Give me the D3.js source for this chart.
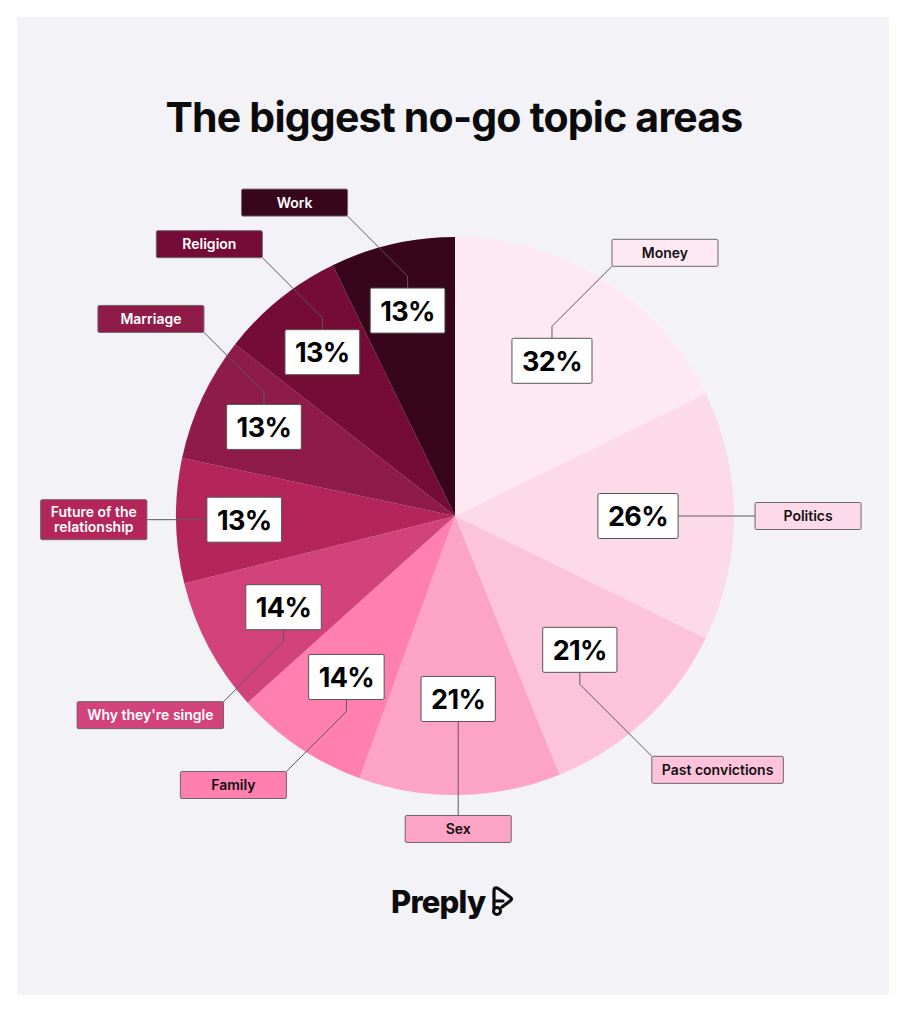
<!DOCTYPE html>
<html>
<head>
<meta charset="utf-8">
<script src="https://cdn.jsdelivr.net/npm/d3@7"></script>
<style>
  body { margin: 0; background: #ffffff; }
  svg { display: block; font-family: Inter, "Noto Sans", sans-serif; }
</style>
</head>
<body>
<svg id="chart"></svg>
<script>
// slices go clockwise from 12 o'clock
var categories = ["Money", "Politics", "Past convictions", "Sex", "Family",
  "Why they're single", "Future of the\nrelationship", "Marriage", "Religion", "Work"];
var shares = [32, 26, 21, 21, 14, 14, 13, 13, 13, 13];
var sliceColors = ["#fee8f2", "#fddae9", "#fdc3da", "#fda3c6", "#ff80ae",
  "#d1437a", "#b42559", "#8f1b48", "#740c36", "#38061a"];
var darkText = [false, false, false, false, false, true, true, true, true, true];

var width = 906, height = 1012;
var cx = 455, cy = 516, radius = 279;

var svg = d3.select("#chart")
    .attr("width", width)
    .attr("height", height);

// grey card
svg.append("rect")
    .attr("x", 17).attr("y", 17)
    .attr("width", 872).attr("height", 978)
    .attr("fill", "#f3f2f7");

svg.append("text")
    .attr("x", cx - 1)
    .attr("y", 132)
    .attr("text-anchor", "middle")
    .style("font-size", "41px")
    .style("font-weight", 700)
    .style("letter-spacing", "-0.8px")
    .style("fill", "#0b0b0b")
    .text("The biggest no-go topic areas");

var data = categories.map(function (c, i) {
  return {name: c, value: shares[i], color: sliceColors[i], light: darkText[i]};
});

var pie = d3.pie().sort(null).value(function (d) { return d.value; });
var arcs = pie(data);

var arc = d3.arc().innerRadius(0).outerRadius(radius);

var g = svg.append("g")
    .attr("transform", "translate(" + cx + "," + cy + ")");

g.selectAll(".slice")
    .data(arcs)
    .enter()
    .append("path")
    .attr("class", "slice")
    .attr("d", arc)
    .attr("fill", function (d) { return d.data.color; });

var lines = g.append("g");
var boxes = g.append("g");

arcs.forEach(function (d) {
  var mid = (d.startAngle + d.endAngle) / 2;
  // narrow slices get their number pushed further out
  var rl = 183 + Math.max(0, 21 - d.value) * 1.6 + Math.max(0, 14 - d.value) * 15;
  var labelArc = d3.arc().innerRadius(rl).outerRadius(rl);
  var c = labelArc.centroid(d);
  var px = c[0], py = c[1];

  // percent box
  var pg = boxes.append("g");
  var pt = pg.append("text")
      .attr("x", px).attr("y", py + 10)
      .attr("text-anchor", "middle")
      .style("font-size", "27px")
      .style("font-weight", 700)
      .style("letter-spacing", "-0.6px")
      .style("fill", "#000")
      .text(d.value + "%");
  var tw = pt.node().getComputedTextLength();
  var bw = tw + 20, bh = 45;
  pg.insert("rect", "text")
      .attr("x", px - bw / 2).attr("y", py - bh / 2)
      .attr("width", bw).attr("height", bh)
      .attr("rx", 1.5)
      .attr("fill", "#fff")
      .attr("stroke", "#555")
      .attr("stroke-width", 1);

  // category label, measured first
  var lg = boxes.append("g");
  var nameLines = d.data.name.split("\n");
  var lt = lg.append("text")
      .attr("text-anchor", "middle")
      .style("font-size", "14px")
      .style("font-weight", 600)
      .style("fill", d.data.light ? "#fff" : "#111");
  lt.selectAll("tspan")
      .data(nameLines)
      .enter()
      .append("tspan")
      .text(function (s) { return s; });
  var lw = 0;
  lt.selectAll("tspan").each(function () {
    lw = Math.max(lw, this.getComputedTextLength());
  });
  var boxW = Math.max(106, lw + 20);
  var boxH = nameLines.length > 1 ? 40 : 27;

  var sx = Math.sin(mid), sy = -Math.cos(mid);
  var path, bx, by; // bx,by = label box top-left
  if (Math.abs(sy) < 0.26) {
    // horizontal leader
    var dir = sx > 0 ? 1 : -1;
    var x0 = px + dir * bw / 2;
    var x1 = x0 + dir * (dir > 0 ? 77 : 60);
    path = [[x0, py], [x1, py]];
    bx = dir > 0 ? x1 : x1 - boxW;
    by = py - boxH / 2;
  } else if (Math.abs(sx) < 0.1) {
    // vertical leader
    var vdir = sy > 0 ? 1 : -1;
    var y0 = py + vdir * bh / 2;
    var y1 = y0 + vdir * 94;
    path = [[px, y0], [px, y1]];
    bx = px - boxW / 2;
    by = vdir > 0 ? y1 : y1 - boxH;
  } else {
    // short stub then 45 degree run to the box corner
    var hx = sx > 0 ? 1 : -1, hy = sy > 0 ? 1 : -1;
    var ys = py + hy * bh / 2;
    var yk = ys + hy * 12;
    var run = (hx > 0 && hy > 0) ? 72 : 60;
    var ex = px + hx * run, ey = yk + hy * run;
    path = [[px, ys], [px, yk], [ex, ey]];
    bx = hx > 0 ? ex : ex - boxW;
    by = hy > 0 ? ey : ey - boxH;
  }

  lines.append("path")
      .attr("d", d3.line()(path))
      .attr("fill", "none")
      .attr("stroke", "#5d5a5c")
      .attr("stroke-width", 1);

  lg.insert("rect", "text")
      .attr("x", bx).attr("y", by)
      .attr("width", boxW).attr("height", boxH)
      .attr("rx", 1.5)
      .attr("fill", d.data.color)
      .attr("stroke", "#6e6469")
      .attr("stroke-width", 1);
  var firstY = by + boxH / 2 + 5 - (nameLines.length - 1) * 7.5;
  lt.selectAll("tspan")
      .attr("x", bx + boxW / 2)
      .attr("y", function (s, i) { return firstY + i * 15; });
});

// brand mark
var logo = svg.append("g").attr("transform", "translate(391,913)");
logo.append("text")
    .attr("x", 0).attr("y", 0)
    .style("font-size", "31px")
    .style("font-weight", 800)
    .style("letter-spacing", "-0.8px")
    .style("fill", "#0b0b0b")
    .text("Preply");
logo.append("path")
    .attr("d", "M103,-5 L103,-22 Q103,-27 108,-24 L119,-16 Q122,-14 119,-12 L111,-6 M103,-12 L112,-12")
    .attr("fill", "none")
    .attr("stroke", "#0b0b0b")
    .attr("stroke-width", 3.2)
    .attr("stroke-linejoin", "round")
    .attr("stroke-linecap", "round");
logo.append("circle")
    .attr("cx", 106).attr("cy", -2).attr("r", 3.5)
    .attr("fill", "none")
    .attr("stroke", "#0b0b0b")
    .attr("stroke-width", 3);
</script>
</body>
</html>
